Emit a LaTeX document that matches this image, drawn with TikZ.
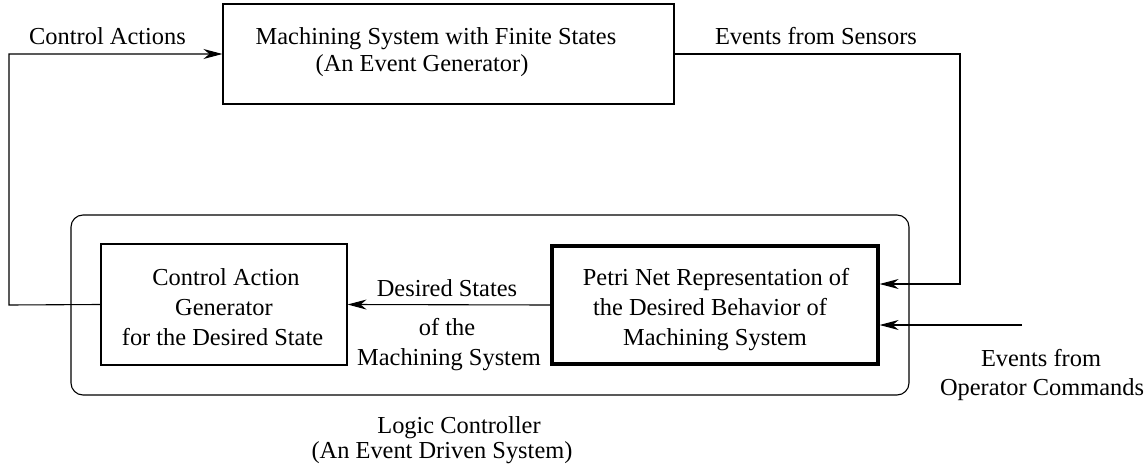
\documentclass[tikz,border=0pt]{standalone}
\usepackage{fontspec}
\setmainfont{Liberation Serif}
\usetikzlibrary{arrows.meta}
\tikzset{
  x=0.5pt, y=-0.5pt,
  lbl/.style={inner sep=0pt, anchor=base, font=\fontsize{12.2}{14}\selectfont},
  plainbox/.style={draw, line width=0.55pt, inner sep=0pt},
  thickbox/.style={draw, line width=1.6pt, inner sep=0pt},
  wire/.style={line width=0.55pt},
  arr/.style={wire, -{Stealth[length=9.5pt, width=5pt, inset=3pt]}}
}
\begin{document}
\begin{tikzpicture}
\useasboundingbox (0,0) rectangle (1148,471);

% plant: the machining system
\node[plainbox, minimum width=225.5pt, minimum height=50pt] (plant) at (448.5,54) {};
\node[lbl] (plantA) at (436,45) {Machining System with Finite States};
\node[lbl] (plantB) at (422,71) {(An Event Generator)};

% logic controller enclosure
\draw[line width=0.55pt, rounded corners=6pt] (71,215) rectangle (909,395);
\node[lbl] (lcA) at (459,433) {Logic Controller};
\node[lbl] (lcB) at (442,458) {(An Event Driven System)};

% control action generator
\node[plainbox, minimum width=123pt, minimum height=60.5pt] (cag) at (224,304.5) {};
\node[lbl] (cagA) at (226,285) {Control Action};
\node[lbl] (cagB) at (224,315) {Generator};
\node[lbl] (cagC) at (222.5,345) {for the Desired State};

% Petri net model of the desired behaviour
\node[thickbox, minimum width=163pt, minimum height=59pt] (petri) at (715,305) {};
\node[lbl] (petA) at (716,285) {Petri Net Representation of};
\node[lbl] (petB) at (710,315) {the Desired Behavior of};
\node[lbl] (petC) at (715,345) {Machining System};

% signal labels
\node[lbl] (ca) at (107.5,45) {Control Actions};
\node[lbl] (es) at (816,45) {Events from Sensors};
\node[lbl] (dsA) at (447,296) {Desired States};
\node[lbl] (dsB) at (447,335) {of the};
\node[lbl] (dsC) at (449,365) {Machining System};
\node[lbl] (opA) at (1041,366) {Events from};
\node[lbl] (opB) at (1042,395) {Operator Commands};

% corner points of the feedback loops
\coordinate (caCorner) at (9,305);
\coordinate (caTop) at (9,54);
\coordinate (esCorner) at (960,54);
\coordinate (esLow) at (960,284);
\coordinate (opEnd) at (1022,325);

% connectors
\draw[arr] (cag.west) -- (caCorner) -- (caTop) -- (plant.west);
\draw[arr] (plant.east) -- (esCorner) -- (esLow) -- (petri.east |- esLow);
\draw[arr] (opEnd) -- (petri.east |- opEnd);
\draw[arr] (petri.west) -- (cag.east);
\end{tikzpicture}
\end{document}
